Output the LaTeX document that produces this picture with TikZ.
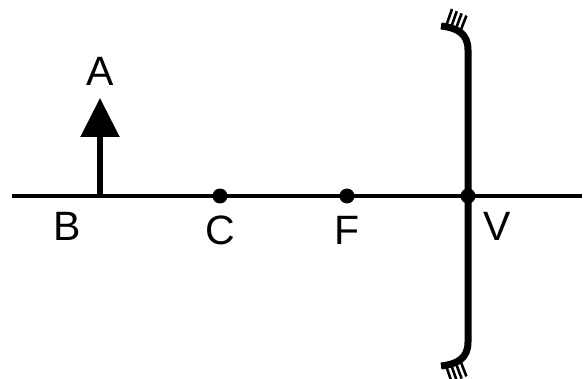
\documentclass[tikz,border=0pt]{standalone}
\usepackage{fontspec}
\setmainfont{Liberation Sans}
\usetikzlibrary{arrows.meta}
\begin{document}
\begin{tikzpicture}[x=1pt,y=-1pt,
  lbl/.style={inner sep=0pt,font=\fontsize{41}{48}\selectfont},
  dotnode/.style={circle,fill=black,inner sep=0pt,minimum size=15pt},
  axisline/.style={line width=4.5pt},
  mirrorline/.style={line width=7pt},
  hatch/.style={line width=2.6pt}]
\useasboundingbox (0,0) rectangle (585,379);
% axis
\coordinate (L) at (12,196);
\coordinate (R) at (582,196);
\draw[axisline] (L) -- (R);
% mirror
\draw[mirrorline] (468,50) .. controls (468,34) and (458,28) .. (441,26)
  (468,50) -- (468,342) .. controls (468,358) and (458,364) .. (441,366);
\foreach \i in {0,1,2,3}{
  \draw[hatch] (446.5+4.8*\i,25+1.6*\i) -- (452+4.8*\i,9+2.2*\i);
  \draw[hatch] (446.5+4.8*\i,367-1.6*\i) -- (452+4.8*\i,383-2.2*\i);
}
% points
\node[dotnode] (C) at (220,196) {};
\node[dotnode] (F) at (347,196) {};
\node[dotnode] (V) at (468,196) {};
\coordinate (B) at (100,196);
\coordinate (Atip) at (100,98);
\draw[line width=5.5pt,-{Triangle[width=38pt,length=39pt]}] (B) -- (Atip);
% labels
\node[lbl] (lA) at (100,71) {A};
\node[lbl] (lB) at (67,226) {B};
\node[lbl] (lC) at (220,230) {C};
\node[lbl] (lF) at (347,230) {F};
\node[lbl] (lV) at (497,226) {V};
\end{tikzpicture}
\end{document}
